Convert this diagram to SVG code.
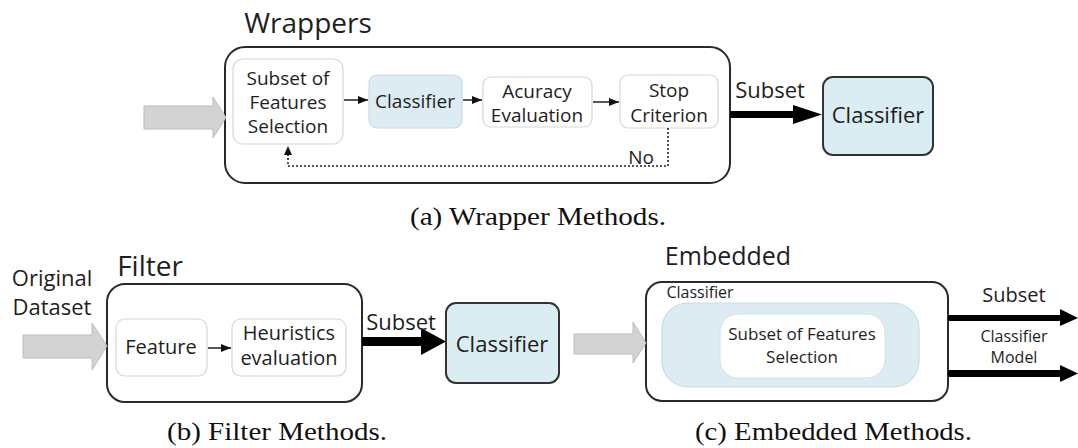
<svg xmlns="http://www.w3.org/2000/svg" width="1078" height="448" viewBox="0 0 1078 448">
<style>
  .t { font-family: "Open Sans", "Liberation Sans", sans-serif; fill: #1e1e1e; text-anchor: middle; }
  .cap { font-family: "Liberation Serif", "DejaVu Serif", serif; fill: #111; font-size: 26px; }
  .outer { fill: #fff; stroke: #2a2a2a; stroke-width: 2; }
  .inner { fill: #fff; stroke: #d6d6d6; stroke-width: 1.2; }
  .blue { fill: #dcecf2; stroke: #c9dbe2; stroke-width: 1.2; }
  .bluebig { fill: #daedf3; stroke: #333; stroke-width: 2; }
  .gray { fill: #d3d3d3; stroke: #bdbdbd; stroke-width: 1; }
  .thin { stroke: #111; stroke-width: 1.4; fill: none; marker-end: url(#ah); }
  .dot { stroke: #222; stroke-width: 1.6; fill: none; stroke-dasharray: 2 2; }
  .thick { fill: #000; }
</style>
<defs>
  <marker id="ah" viewBox="0 0 10 8" refX="10" refY="4" markerWidth="10" markerHeight="8" markerUnits="userSpaceOnUse" orient="auto">
    <path d="M0,0 L10,4 L0,8 z" fill="#111"/>
  </marker>
</defs>

<!-- (a) Wrappers -->
<g id="wrappers">
  <text class="t" x="308" y="33" font-size="28">Wrappers</text>
  <rect class="outer" x="225" y="47" width="505" height="136" rx="20"/>
</g>
<g id="a-sofs">
  <rect class="inner" x="233" y="59" width="110" height="85" rx="10"/>
  <text class="t" x="288" y="85" font-size="19">Subset of</text>
  <text class="t" x="288" y="109" font-size="19">Features</text>
  <text class="t" x="288" y="133" font-size="19">Selection</text>
</g>
<g id="a-classifier">
  <rect class="blue" x="369" y="75" width="93" height="53" rx="8"/>
  <text class="t" x="415" y="108" font-size="19">Classifier</text>
</g>
<g id="a-accuracy">
  <rect class="inner" x="483" y="77" width="109" height="50" rx="8"/>
  <text class="t" x="537" y="98" font-size="19">Acuracy</text>
  <text class="t" x="537" y="122" font-size="19">Evaluation</text>
</g>
<g id="a-stop">
  <rect class="inner" x="620" y="75" width="98" height="53" rx="8"/>
  <text class="t" x="669" y="97" font-size="19">Stop</text>
  <text class="t" x="669" y="122" font-size="19">Criterion</text>
</g>
<g id="a-final-classifier">
  <rect class="bluebig" x="823" y="77" width="110" height="78" rx="10"/>
  <text class="t" x="878" y="123" font-size="22">Classifier</text>
</g>
<text class="cap" x="410" y="225" textLength="256" lengthAdjust="spacingAndGlyphs">(a) Wrapper Methods.</text>

<!-- (b) Filter -->
<g id="filter">
  <text class="t" x="52" y="286" font-size="22">Original</text>
  <text class="t" x="52" y="315" font-size="22">Dataset</text>
  <text class="t" x="150" y="276" font-size="28">Filter</text>
  <rect class="outer" x="107" y="284" width="255" height="118" rx="18"/>
</g>
<g id="b-feature">
  <rect class="inner" x="116" y="319" width="91" height="57" rx="9"/>
  <text class="t" x="161" y="354" font-size="20">Feature</text>
</g>
<g id="b-heuristics">
  <rect class="inner" x="232" y="319" width="114" height="57" rx="9"/>
  <text class="t" x="289" y="340" font-size="20">Heuristics</text>
  <text class="t" x="289" y="365" font-size="20">evaluation</text>
</g>
<g id="b-classifier">
  <rect class="bluebig" x="446" y="303" width="113" height="80" rx="10"/>
  <text class="t" x="502" y="352" font-size="22">Classifier</text>
</g>
<text class="cap" x="167" y="440" textLength="220" lengthAdjust="spacingAndGlyphs">(b) Filter Methods.</text>

<!-- (c) Embedded -->
<g id="embedded">
  <text class="t" x="728" y="265" font-size="25">Embedded</text>
  <rect class="outer" x="646" y="282" width="302" height="119" rx="16"/>
  <text class="t" x="700" y="298" font-size="16">Classifier</text>
</g>
<g id="c-classifier">
  <rect class="blue" x="662" y="303" width="257" height="84" rx="26"/>
</g>
<g id="c-sofs">
  <rect fill="#fff" stroke="#cfe0e6" stroke-width="1" x="720" y="314" width="165" height="64" rx="18"/>
  <text class="t" x="802" y="340" font-size="17">Subset of Features</text>
  <text class="t" x="802" y="363" font-size="17">Selection</text>
</g>
<text class="cap" x="695" y="440" textLength="277" lengthAdjust="spacingAndGlyphs">(c) Embedded Methods.</text>

<!-- connectors -->
<g id="connectors">
  <!-- (a) -->
  <polygon class="gray" points="144,106 213,106 213,97 226,117.5 213,138 213,129 144,129"/>
  <line class="thin" x1="344" y1="100" x2="368" y2="100"/>
  <line class="thin" x1="463" y1="100" x2="482" y2="100"/>
  <line class="thin" x1="593" y1="102" x2="619" y2="102"/>
  <polyline class="dot" points="668,128 668,166 288,166 288,154"/>
  <path d="M284,155 L288,146 L292,155 z" fill="#111"/>
  <text class="t" x="641" y="164" font-size="19">No</text>
  <polygon class="thick" points="730,111 793,111 793,105 822,114.5 793,124 793,118 730,118"/>
  <text class="t" x="770" y="98" font-size="22">Subset</text>
  <!-- (b) -->
  <polygon class="gray" points="23,335 92,335 92,323 107,346 92,370 92,358 23,358"/>
  <line class="thin" x1="208" y1="348" x2="231" y2="348"/>
  <polygon class="thick" points="362,337 421,337 421,328 446,341.5 421,355 421,346 362,346"/>
  <text class="t" x="401" y="330" font-size="22">Subset</text>
  <!-- (c) -->
  <polygon class="gray" points="574,334 633,334 633,322 646,343 633,363 633,354 574,354"/>
  <polygon class="thick" points="948,315 1060,315 1060,309 1078,318 1060,326 1060,321 948,321"/>
  <polygon class="thick" points="948,370 1060,370 1060,365 1078,373.5 1060,382 1060,377 948,377"/>
  <text class="t" x="1014" y="302" font-size="20">Subset</text>
  <text class="t" x="1014" y="342" font-size="16">Classifier</text>
  <text class="t" x="1014" y="363" font-size="16">Model</text>
</g>
</svg>
